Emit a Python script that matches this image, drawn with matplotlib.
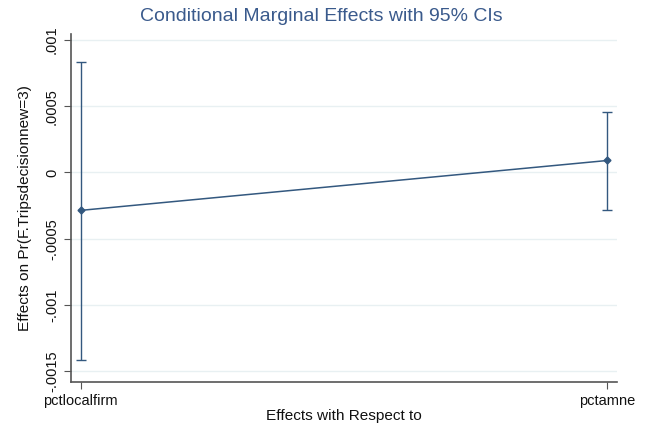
import numpy as np
import matplotlib
matplotlib.use("Agg")
import matplotlib.pyplot as plt

plt.rcParams['font.family'] = ['Liberation Sans', 'DejaVu Sans']

# marginal effects and 95% CIs
labels = ["pctlocalfirm", "pctamne"]
effect = [-0.000286, 0.000090]
ci_low = [-0.001417, -0.000286]
ci_high = [0.000836, 0.000452]
yticks = [0.001, 0.0005, 0, -0.0005, -0.001, -0.0015]
yticklabels = [".001", ".0005", "0", "-.0005", "-.001", "-.0015"]

navy = "#33587f"
fig = plt.figure(figsize=(6.5, 4.29), dpi=100)
ax = fig.add_axes([0.109, 0.1096, 0.84, 0.81])

x = np.arange(len(labels))
eff = np.array(effect)
yerr = [eff - np.array(ci_low), np.array(ci_high) - eff]
ax.plot(x, eff, color=navy, lw=1.1, zorder=3)
ax.errorbar(x, eff, yerr=yerr, fmt="D", ms=3.5, color=navy, ecolor=navy,
            elinewidth=1.0, capsize=3.5, capthick=1.0, zorder=4)

ax.set_xlim(-0.019, 1.018)
ax.set_ylim(-0.00158, 0.00104)
ax.set_yticks(yticks)
ax.set_yticklabels(yticklabels, rotation=90, va="center", fontsize=10.5)
ax.set_xticks(x)
ax.set_xticklabels(labels, fontsize=10.5)
ax.grid(axis="y", color="#e8f0f2", lw=1.0)
ax.set_axisbelow(True)

for s in ["top", "right"]:
    ax.spines[s].set_visible(False)
for s in ["left", "bottom"]:
    ax.spines[s].set_color("#555555")
    ax.spines[s].set_linewidth(1.2)
ax.tick_params(colors="#555555", labelcolor="#111111", length=5, width=0.8)

ax.set_ylabel("Effects on Pr(F.Tripsdecisionnew=3)", fontsize=11.1, color="#111111")
ax.yaxis.set_label_coords(-0.072, 0.5)
ax.set_xlabel("Effects with Respect to", fontsize=11.1, color="#111111", labelpad=1)
fig.text(0.495, 0.962, "Conditional Marginal Effects with 95% CIs", ha="center", va="center",
         fontsize=14, color="#3a5a8c")

fig.savefig("out.png", dpi=100, facecolor="white")
